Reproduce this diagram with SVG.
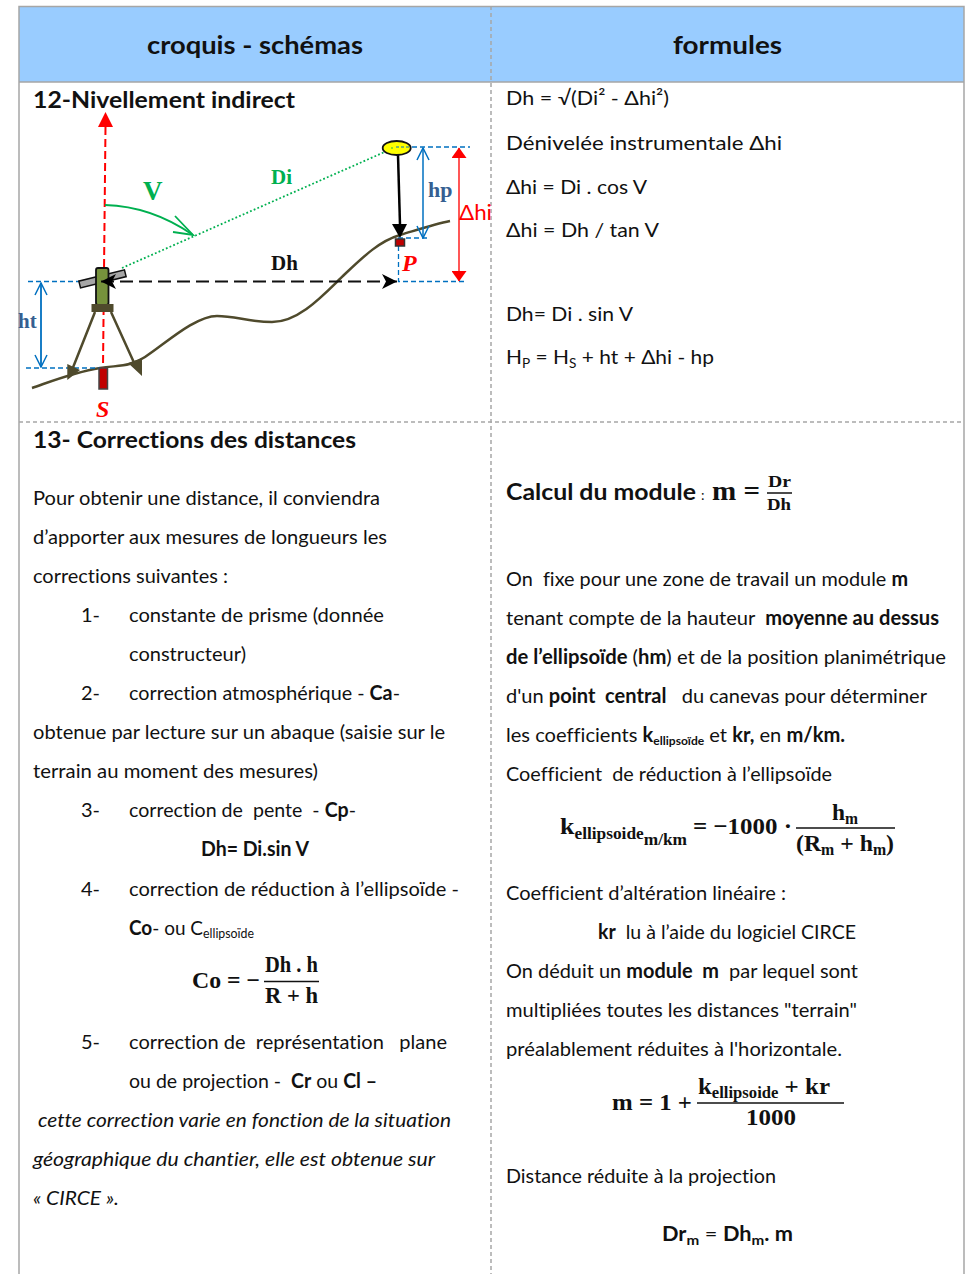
<svg xmlns="http://www.w3.org/2000/svg" width="968" height="1274" viewBox="0 0 968 1274">
<style>
svg{font-family:"Lato","Open Sans","Liberation Sans",sans-serif;font-size:20px;fill:#111;}
text{white-space:pre;font-variant-ligatures:none;}
.b{font-weight:700;}
.i{font-style:italic;}
.h{font-size:24px;font-weight:700;}
.t{font-size:23px;font-weight:700;}
.m{font-family:"Liberation Serif",serif;font-weight:700;font-size:24px;}
.sub{font-size:16px;}
.s{font-family:"Liberation Serif",serif;font-weight:700;}
.bl{stroke:#0070c0;fill:none;}
.dsh{stroke-dasharray:5 3;stroke-width:1.300;}
.g{stroke:#a6a6a6;stroke-width:1.500;fill:none;}
.gd{stroke:#a6a6a6;stroke-width:1.500;fill:none;stroke-dasharray:4 3;}
</style>
<defs>
<marker id="open" viewBox="0 0 14 14" refX="13" refY="7" markerWidth="14" markerHeight="14" markerUnits="userSpaceOnUse" orient="auto-start-reverse"><path d="M1,1 L13,7 L1,13" fill="none" stroke="#0070c0" stroke-width="1.500"/></marker>
<marker id="red" viewBox="0 0 11 15" refX="10" refY="7.500" markerWidth="11" markerHeight="15" markerUnits="userSpaceOnUse" orient="auto-start-reverse"><path d="M0,0 L10.500,7.500 L0,15 Z" fill="#f00"/></marker>
<marker id="blk" viewBox="0 0 16 15" refX="15" refY="7.500" markerWidth="16" markerHeight="15" markerUnits="userSpaceOnUse" orient="auto-start-reverse"><path d="M0,0 L15,7.500 L0,15 L4,7.500 Z" fill="#000"/></marker>
</defs>
<rect width="968" height="1274" fill="#fff"/>
<g id="table">
<rect x="19" y="7" width="945" height="75" fill="#99ccff"/>
<path class="g" d="M19,1274V6.500H964V1274"/>
<path class="g" d="M19,82H964"/>
<path class="gd" d="M491,6V1274"/>
<path class="gd" d="M19,422H964"/>
<text class="h" x="147" y="54" textLength="216" lengthAdjust="spacingAndGlyphs">croquis - schémas</text>
<text class="h" x="673" y="54" textLength="109" lengthAdjust="spacingAndGlyphs">formules</text>
</g>
<g id="ground"><path d="M32,388 C55,380 75,372 100,368 C120,365 130,367 145,357 C165,344 195,316 217,316 C235,316 250,322 272,322 C300,322 325,293 345,274 C365,255 380,241 400,235 C420,229 435,224 450,221" fill="none" stroke="#4f4a2c" stroke-width="2.500"/></g>
<g id="connectors">
<path d="M105.500,127L103,368" stroke="#f00" stroke-width="2" stroke-dasharray="8 4" fill="none"/>
<path d="M98,127L113,127L105.500,112Z" fill="#f00"/>
<path d="M105,205C140,206 170,219 193,235" stroke="#00b050" stroke-width="1.800" fill="none"/>
<path d="M175,216L193,235L173,232" stroke="#00b050" stroke-width="1.800" fill="none"/>
<path d="M122,268L396,147" stroke="#00b050" stroke-width="1.800" stroke-dasharray="1.800 2.200" fill="none"/>
<path d="M28,281.500H100M26,368H100M398.500,238V281.500H467M396,147H470M398,238H428" class="bl dsh"/>
<path d="M41,283V367" class="bl" stroke-width="1.800" marker-start="url(#open)" marker-end="url(#open)"/>
<path d="M423,148V238" class="bl" stroke-width="1.500" marker-start="url(#open)" marker-end="url(#open)"/>
<path d="M459,148V281" stroke="#f44" stroke-width="1.800" marker-start="url(#red)" marker-end="url(#red)" fill="none"/>
</g>
<g id="instrument">
<path d="M95,312L72,370M111,312L136,367" stroke="#4f4a2c" stroke-width="2.500" fill="none"/>
<path d="M67.300,364L67.300,380L80,370ZM128,363L142,358L142,376Z" fill="#4f4a2c"/>
<rect x="79" y="275.500" width="47" height="7" transform="rotate(-14 102 279)" fill="#a6a6a6" stroke="#111" stroke-width="1.500"/>
<rect x="96" y="268" width="12.500" height="37" rx="2" fill="#76923c" stroke="#111" stroke-width="1.800"/>
<rect x="91.500" y="304" width="22" height="8" fill="#4f4a2c"/>
</g>
<g id="station-S"><rect x="99" y="368" width="8.500" height="21" fill="#c00000" stroke="#444" stroke-width="1.500"/></g>
<g id="point-P"><rect x="395.500" y="239" width="9" height="7" fill="#c00000" stroke="#333" stroke-width="1.500"/></g>
<g id="connectors-top">
<path d="M101,281.500H397" stroke="#111" stroke-width="1.800" stroke-dasharray="13 6" marker-start="url(#blk)" marker-end="url(#blk)" fill="none"/>
<path d="M398,155L400,225" stroke="#000" stroke-width="2.500" fill="none"/>
<path d="M392,224L407,224L400,238Z" fill="#000"/>
</g>
<g id="prism"><ellipse cx="396.700" cy="148" rx="14" ry="7" fill="#ffff00" stroke="#111" stroke-width="1.800"/><path d="M396,147h13" stroke="#0070c0" stroke-dasharray="3 2"/><circle cx="392" cy="148" r="0.800" fill="#00b050"/></g>
<g id="labels">
<text class="s" x="143" y="200" font-size="27" fill="#00b050">V</text>
<text class="s" x="271" y="184" font-size="21" fill="#00b050">Di</text>
<text class="s" x="271" y="270" font-size="21" fill="#111">Dh</text>
<text class="s" x="18" y="328" font-size="21" fill="#365f91">ht</text>
<text class="s" x="428" y="197" font-size="22" fill="#365f91">hp</text>
<text x="459" y="220" textLength="33" lengthAdjust="spacingAndGlyphs" font-size="22" fill="#f00">Δhi</text>
<text class="s" x="402" y="271" font-size="24" font-style="italic" fill="#f00">P</text>
<text class="s" x="96" y="417" font-size="24" font-style="italic" fill="#f00">S</text>
</g>
<g id="col-left">
<text class="t" x="33" y="108" textLength="262" lengthAdjust="spacingAndGlyphs">12-Nivellement indirect</text>
<text class="t" x="33" y="448" textLength="323" lengthAdjust="spacingAndGlyphs">13- Corrections des distances</text>
<text x="33" y="505" textLength="347" lengthAdjust="spacingAndGlyphs">Pour obtenir une distance, il conviendra</text>
<text x="33" y="544" textLength="354" lengthAdjust="spacingAndGlyphs">d’apporter aux mesures de longueurs les</text>
<text x="33" y="583" textLength="195" lengthAdjust="spacingAndGlyphs">corrections suivantes :</text>
<text x="81" y="622">1-</text><text x="129" y="622" textLength="255" lengthAdjust="spacingAndGlyphs">constante de prisme (donnée</text>
<text x="129" y="661" textLength="117" lengthAdjust="spacingAndGlyphs">constructeur)</text>
<text x="81" y="700">2-</text><text x="129" y="700" textLength="271" lengthAdjust="spacingAndGlyphs">correction atmosphérique - <tspan class="b">Ca</tspan>-</text>
<text x="33" y="739" textLength="412" lengthAdjust="spacingAndGlyphs">obtenue par lecture sur un abaque (saisie sur le</text>
<text x="33" y="778" textLength="285" lengthAdjust="spacingAndGlyphs">terrain au moment des mesures)</text>
<text x="81" y="817">3-</text><text x="129" y="817" textLength="227" lengthAdjust="spacingAndGlyphs">correction de  pente  - <tspan class="b">Cp</tspan>-</text>
<text class="b" x="201" y="856" textLength="108" lengthAdjust="spacingAndGlyphs">Dh= Di.sin V</text>
<text x="81" y="896">4-</text><text x="129" y="896" textLength="330" lengthAdjust="spacingAndGlyphs">correction de réduction à l’ellipsoïde -</text>
<text x="129" y="935" textLength="125" lengthAdjust="spacingAndGlyphs"><tspan class="b">Co</tspan>- ou C<tspan font-size="13" dy="3">ellipsoïde</tspan></text>
<g id="f-co">
<text class="m" x="192" y="988" textLength="68" lengthAdjust="spacingAndGlyphs">Co = −</text>
<text class="m" x="265" y="972" textLength="53" lengthAdjust="spacingAndGlyphs">Dh . h</text>
<path d="M264,981.500H319" stroke="#111" stroke-width="1.500"/>
<text class="m" x="265" y="1003" textLength="53" lengthAdjust="spacingAndGlyphs">R + h</text>
</g>
<text x="81" y="1049">5-</text><text x="129" y="1049" textLength="318" lengthAdjust="spacingAndGlyphs">correction de  représentation   plane</text>
<text x="129" y="1088" textLength="248" lengthAdjust="spacingAndGlyphs">ou de projection -  <tspan class="b">Cr</tspan> ou <tspan class="b">Cl –</tspan></text>
<text class="i" x="38" y="1127" textLength="413" lengthAdjust="spacingAndGlyphs">cette correction varie en fonction de la situation</text>
<text class="i" x="33" y="1166" textLength="402" lengthAdjust="spacingAndGlyphs">géographique du chantier, elle est obtenue sur</text>
<text class="i" x="33" y="1205" textLength="86" lengthAdjust="spacingAndGlyphs">« CIRCE ».</text>
</g>
<g id="col-right">
<text x="506" y="105" textLength="163" lengthAdjust="spacingAndGlyphs">Dh = √(Di² - Δhi²)</text>
<text x="506" y="150" textLength="276" lengthAdjust="spacingAndGlyphs">Dénivelée instrumentale Δhi</text>
<text x="506" y="194" textLength="141" lengthAdjust="spacingAndGlyphs">Δhi = Di . cos V</text>
<text x="506" y="237" textLength="153" lengthAdjust="spacingAndGlyphs">Δhi = Dh / tan V</text>
<text x="506" y="321" textLength="127" lengthAdjust="spacingAndGlyphs">Dh= Di . sin V</text>
<text x="506" y="364" textLength="208" lengthAdjust="spacingAndGlyphs">H<tspan font-size="13" dy="4">P</tspan><tspan dy="-4"> = H</tspan><tspan font-size="13" dy="4">S</tspan><tspan dy="-4"> + ht + Δhi - hp</tspan></text>
<text class="t" x="506" y="500" textLength="190" lengthAdjust="spacingAndGlyphs">Calcul du module</text>
<text x="701" y="500" font-size="14">:</text>
<text class="m" x="712" y="500" style="font-size:27px" textLength="48" lengthAdjust="spacingAndGlyphs">m =</text>
<text class="m" x="768" y="487" style="font-size:17px" textLength="23" lengthAdjust="spacingAndGlyphs">Dr</text>
<path d="M767,493H792" stroke="#111" stroke-width="1.500"/>
<text class="m" x="767" y="510" style="font-size:17px" textLength="24" lengthAdjust="spacingAndGlyphs">Dh</text>
<text x="506" y="586" textLength="402" lengthAdjust="spacingAndGlyphs">On  fixe pour une zone de travail un module <tspan class="b">m</tspan></text>
<text x="506" y="625" textLength="433" lengthAdjust="spacingAndGlyphs">tenant compte de la hauteur  <tspan class="b">moyenne au dessus</tspan></text>
<text x="506" y="664" textLength="440" lengthAdjust="spacingAndGlyphs"><tspan class="b">de l’ellipsoïde</tspan> (<tspan class="b">hm</tspan>) et de la position planimétrique</text>
<text x="506" y="703" textLength="421" lengthAdjust="spacingAndGlyphs">d'un <tspan class="b">point  central</tspan>   du canevas pour déterminer</text>
<text x="506" y="742" textLength="339" lengthAdjust="spacingAndGlyphs">les coefficients <tspan class="b">k</tspan><tspan class="b" font-size="12" dy="3">ellipsoïde</tspan><tspan dy="-3"> et </tspan><tspan class="b">kr,</tspan> en <tspan class="b">m/km.</tspan></text>
<text x="506" y="781" textLength="326" lengthAdjust="spacingAndGlyphs">Coefficient  de réduction à l’ellipsoïde</text>
<g id="f-k">
<text class="m" x="560" y="834" textLength="127" lengthAdjust="spacingAndGlyphs">k<tspan class="sub" dy="5">ellipsoide</tspan><tspan class="sub" dy="6">m/km</tspan></text>
<text class="m" x="693" y="834" textLength="99" lengthAdjust="spacingAndGlyphs">= −1000 ·</text>
<text class="m" x="832" y="820" textLength="26" lengthAdjust="spacingAndGlyphs">h<tspan class="sub" dy="4">m</tspan></text>
<path d="M796,828H895" stroke="#111" stroke-width="1.500"/>
<text class="m" x="796" y="851" textLength="98" lengthAdjust="spacingAndGlyphs">(R<tspan class="sub" dy="4">m</tspan><tspan dy="-4"> + h</tspan><tspan class="sub" dy="4">m</tspan><tspan dy="-4">)</tspan></text>
</g>
<text x="506" y="900" textLength="280" lengthAdjust="spacingAndGlyphs">Coefficient d’altération linéaire :</text>
<text x="598" y="939" textLength="258" lengthAdjust="spacingAndGlyphs"><tspan class="b">kr</tspan>  lu à l’aide du logiciel CIRCE</text>
<text x="506" y="978" textLength="352" lengthAdjust="spacingAndGlyphs">On déduit un <tspan class="b">module  m</tspan>  par lequel sont</text>
<text x="506" y="1017" textLength="351" lengthAdjust="spacingAndGlyphs">multipliées toutes les distances "terrain"</text>
<text x="506" y="1056" textLength="336" lengthAdjust="spacingAndGlyphs">préalablement réduites à l'horizontale.</text>
<g id="f-m">
<text class="m" x="612" y="1110" textLength="80" lengthAdjust="spacingAndGlyphs">m = 1 +</text>
<text class="m" x="698" y="1094" textLength="132" lengthAdjust="spacingAndGlyphs">k<tspan class="sub" dy="4">ellipsoide</tspan><tspan dy="-4"> + kr</tspan></text>
<path d="M697,1103H844" stroke="#111" stroke-width="1.500"/>
<text class="m" x="746" y="1125" textLength="50" lengthAdjust="spacingAndGlyphs">1000</text>
</g>
<text x="506" y="1183" textLength="270" lengthAdjust="spacingAndGlyphs">Distance réduite à la projection</text>
<text class="b" x="662" y="1241" textLength="131" lengthAdjust="spacingAndGlyphs">Dr<tspan font-size="14" dy="4">m</tspan><tspan dy="-4" font-weight="400"> = </tspan>Dh<tspan font-size="14" dy="4">m</tspan><tspan dy="-4">. m</tspan></text>
</g>
</svg>
